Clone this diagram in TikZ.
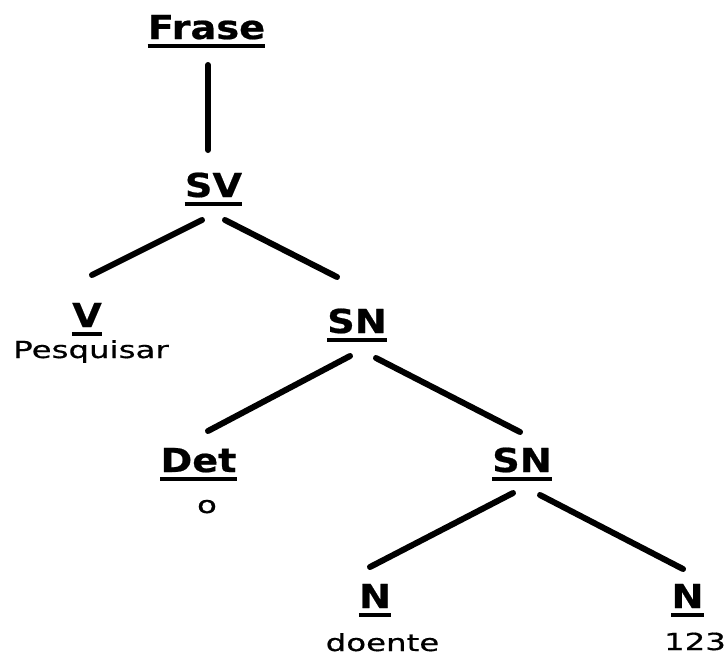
\documentclass[tikz,border=0pt]{standalone}
\usepackage{fontspec}
\newfontfamily\catfont[FakeStretch=1.16,FakeBold=0.6]{DejaVu Sans}
\newfontfamily\wordfont[FakeStretch=1.38,FakeBold=0.5]{DejaVu Sans}
\tikzset{
  cat/.style={anchor=base, inner sep=0pt, font=\catfont\bfseries\fontsize{33}{33}\selectfont},
  word/.style={anchor=base, inner sep=0pt, font=\wordfont\fontsize{23.5}{23.5}\selectfont},
  branch/.style={line width=6pt, line cap=round},
  ul/.style={line width=4pt}
}
\newcommand{\ulcat}[1]{\draw[ul] ([yshift=-7pt]#1.base west) -- ([yshift=-7pt]#1.base east);}
\begin{document}
\begin{tikzpicture}[x=1pt, y=-1pt]
  \useasboundingbox (0,0) rectangle (727,656);

  % category labels
  \node[cat] (frase) at (206.5,39) {Frase};
  \node[cat] (sv)    at (213.5,197) {SV};
  \node[cat] (v)     at (87,327) {V};
  \node[cat] (sna)   at (357,333) {SN};
  \node[cat] (det)   at (198.5,472) {Det};
  \node[cat] (snb)   at (522,472) {SN};
  \node[cat] (na)    at (375,608) {N};
  \node[cat] (nb)    at (687.5,608) {N};
  \foreach \n in {frase,sv,v,sna,det,snb,na,nb} {\ulcat{\n}}

  % words
  \node[word] (pesq)   at (91,358) {Pesquisar};
  \node[word] (o)      at (207,513) {o};
  \node[word] (doente) at (382.5,651) {doente};
  \node[word] (num)    at (695,650) {123};

  % branches
  \draw[branch] ([shift={(1.5,26)}]frase.base) -- ([shift={(-5.5,-47)}]sv.base);
  \draw[branch] ([shift={(-11.5,23)}]sv.base) -- ([shift={(5,-52)}]v.base);
  \draw[branch] ([shift={(11.5,23)}]sv.base) -- ([shift={(-20,-56)}]sna.base);
  \draw[branch] ([shift={(-7,23)}]sna.base) -- ([shift={(9.5,-41)}]det.base);
  \draw[branch] ([shift={(19,25)}]sna.base) -- ([shift={(-2,-40)}]snb.base);
  \draw[branch] ([shift={(-9,21)}]snb.base) -- ([shift={(-5,-41)}]na.base);
  \draw[branch] ([shift={(18,23)}]snb.base) -- ([shift={(-4.5,-39)}]nb.base);
\end{tikzpicture}
\end{document}
